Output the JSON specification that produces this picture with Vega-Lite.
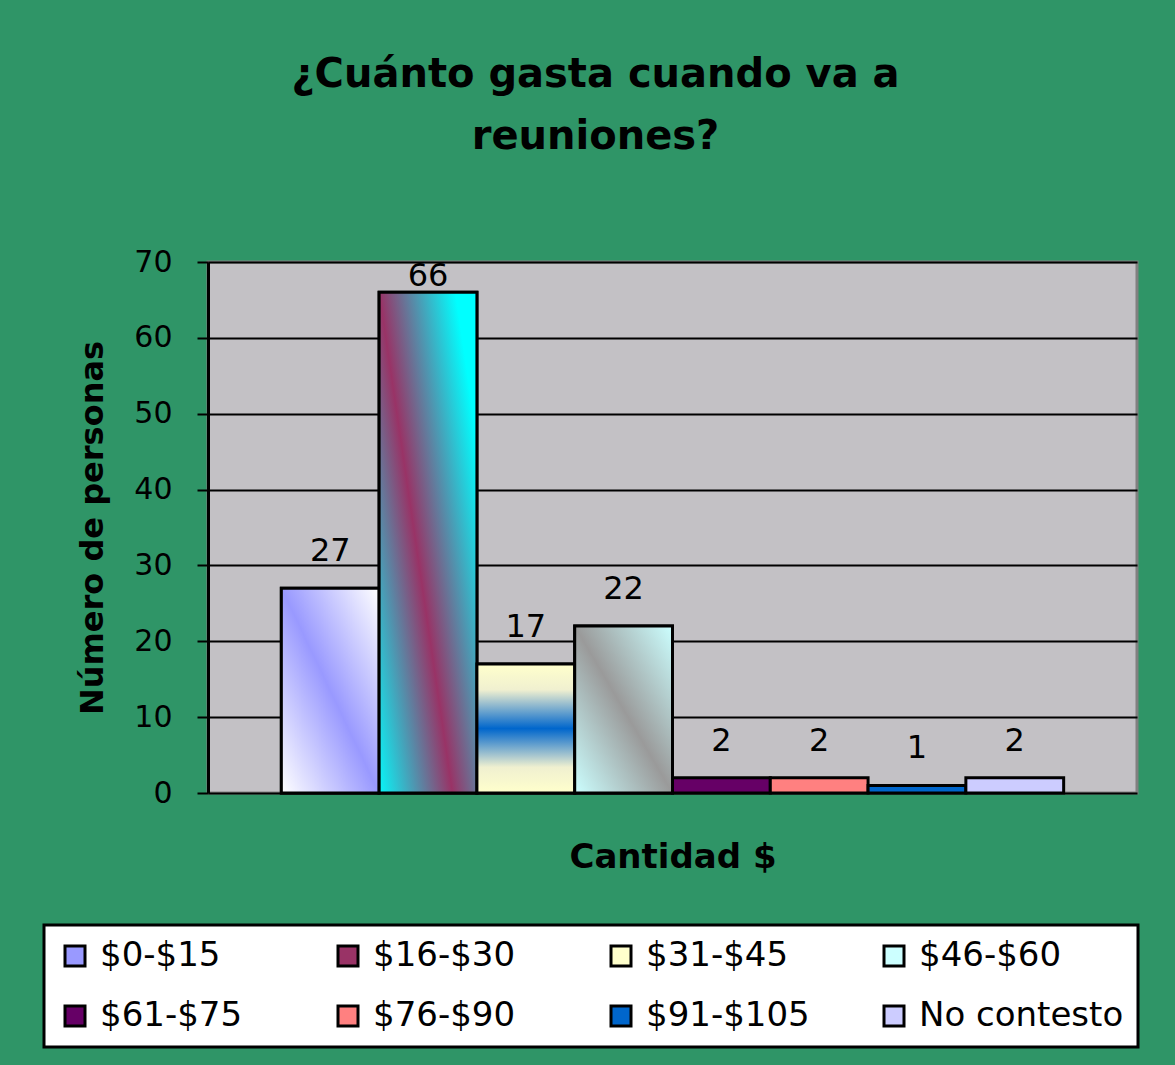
{
  "$schema": "https://vega.github.io/schema/vega-lite/v6.json",
  "width": 929,
  "height": 531,
  "autosize": {"type": "none"},
  "padding": {"left": 208, "top": 262, "right": 38, "bottom": 272},
  "background": "#2f9567",
  "config": {
    "view": {"fill": "#c3c1c5", "stroke": "#808080", "strokeWidth": 3},
    "font": "DejaVu Sans",
    "legend": {"strokeWidth": 3}
  },
  "title": {
    "text": ["¿Cuánto gasta cuando va a", "reuniones?"],
    "anchor": "middle",
    "frame": "group",
    "dx": -77,
    "offset": 50,
    "font": "DejaVu Sans",
    "fontSize": 40,
    "fontWeight": "bold",
    "color": "black",
    "lineHeight": 62,
    "baseline": "bottom"
  },
  "data": {
    "values": [
      {"cat": "$0-$15", "value": 27},
      {"cat": "$16-$30", "value": 66},
      {"cat": "$31-$45", "value": 17},
      {"cat": "$46-$60", "value": 22},
      {"cat": "$61-$75", "value": 2},
      {"cat": "$76-$90", "value": 2},
      {"cat": "$91-$105", "value": 1},
      {"cat": "No contesto", "value": 2}
    ]
  },
  "encoding": {
    "x": {
      "field": "cat",
      "type": "nominal",
      "sort": null,
      "scale": {
        "domain": ["$0-$15", "$16-$30", "$31-$45", "$46-$60", "$61-$75", "$76-$90", "$91-$105", "No contesto"],
        "paddingInner": 0,
        "paddingOuter": 0.75
      },
      "axis": {
        "labels": false,
        "ticks": false,
        "domain": false,
        "title": "Cantidad $",
        "titleFont": "DejaVu Sans",
        "titleFontSize": 34,
        "titleFontWeight": "bold",
        "titleColor": "black",
        "titleY": 74,
        "titleBaseline": "alphabetic"
      }
    },
    "y": {
      "field": "value",
      "type": "quantitative",
      "scale": {"domain": [0, 70], "nice": false},
      "axis": {
        "values": [0, 10, 20, 30, 40, 50, 60, 70],
        "title": "Número de personas",
        "titleFont": "DejaVu Sans",
        "titleFontSize": 32,
        "titleFontWeight": "bold",
        "titleColor": "black",
        "titleAngle": 270,
        "titleX": -106,
        "titleY": 265.5,
        "titleAlign": "center",
        "titleBaseline": "alphabetic",
        "labelFont": "DejaVu Sans",
        "labelFontSize": 30,
        "labelColor": "black",
        "labelPadding": 25,
        "tickSize": 11,
        "tickColor": "black",
        "tickWidth": 2,
        "domainColor": "black",
        "domainWidth": 3,
        "grid": true,
        "gridColor": "black",
        "gridWidth": 2
      }
    }
  },
  "layer": [
    {
      "mark": {"type": "bar", "stroke": "black", "strokeWidth": 3},
      "encoding": {
        "color": {
          "field": "cat",
          "type": "nominal",
          "scale": {
            "domain": ["$0-$15", "$16-$30", "$31-$45", "$46-$60", "$61-$75", "$76-$90", "$91-$105", "No contesto"],
            "range": ["#9999ff", "#993366", "#ffffcc", "#ccffff", "#660066", "#ff8080", "#0066cc", "#ccccff"]
          },
          "legend": {
            "title": null,
            "orient": "none",
            "legendX": -164,
            "legendY": 663,
            "direction": "horizontal",
            "columns": 4,
            "gridAlign": "all",
            "columnPadding": 26,
            "rowPadding": 26,
            "padding": 14,
            "fillColor": "white",
            "strokeColor": "black",
            "symbolType": "square",
            "symbolSize": 400,
            "symbolStrokeColor": "black",
            "symbolStrokeWidth": 3,
            "symbolOpacity": 1,
            "labelFont": "DejaVu Sans",
            "labelFontSize": 34,
            "labelColor": "black",
            "labelOffset": 8,
            "labelLimit": 400
          }
        }
      }
    },
    {
      "transform": [{"filter": "datum.cat === '$0-$15'"}],
      "mark": {
        "type": "bar", "stroke": "black", "strokeWidth": 3,
        "fill": {"gradient": "linear", "x1": 0, "y1": 1, "x2": 1, "y2": 0,
          "stops": [{"offset": 0, "color": "#ffffff"}, {"offset": 0.5, "color": "#9999ff"}, {"offset": 1, "color": "#ffffff"}]}
      }
    },
    {
      "transform": [{"filter": "datum.cat === '$16-$30'"}],
      "mark": {
        "type": "bar", "stroke": "black", "strokeWidth": 3,
        "fill": {"gradient": "linear", "x1": -0.125, "y1": 0.875, "x2": 0.875, "y2": 0.125,
          "stops": [{"offset": 0, "color": "#00ffff"}, {"offset": 0.5, "color": "#993366"}, {"offset": 1, "color": "#00ffff"}]}
      }
    },
    {
      "transform": [{"filter": "datum.cat === '$31-$45'"}],
      "mark": {
        "type": "bar", "stroke": "black", "strokeWidth": 3,
        "fill": {"gradient": "linear", "x1": 0, "y1": 0, "x2": 0, "y2": 1,
          "stops": [{"offset": 0, "color": "#ffffcc"}, {"offset": 0.2, "color": "#f0f0d0"}, {"offset": 0.5, "color": "#0066cc"}, {"offset": 0.8, "color": "#f0f0d0"}, {"offset": 1, "color": "#ffffcc"}]}
      }
    },
    {
      "transform": [{"filter": "datum.cat === '$46-$60'"}],
      "mark": {
        "type": "bar", "stroke": "black", "strokeWidth": 3,
        "fill": {"gradient": "linear", "x1": 0, "y1": 1, "x2": 1, "y2": 0,
          "stops": [{"offset": 0, "color": "#ccffff"}, {"offset": 0.5, "color": "#9a9a9a"}, {"offset": 1, "color": "#ccffff"}]}
      }
    },
    {
      "transform": [{"filter": "datum.value < 60"}],
      "mark": {"type": "text", "font": "DejaVu Sans", "fontSize": 32, "color": "black", "baseline": "alphabetic", "dy": -27},
      "encoding": {"text": {"field": "value", "type": "quantitative"}}
    },
    {
      "transform": [{"filter": "datum.value >= 60"}],
      "mark": {"type": "text", "font": "DejaVu Sans", "fontSize": 32, "color": "black", "baseline": "alphabetic", "dy": -6},
      "encoding": {"text": {"field": "value", "type": "quantitative"}}
    }
  ]
}
